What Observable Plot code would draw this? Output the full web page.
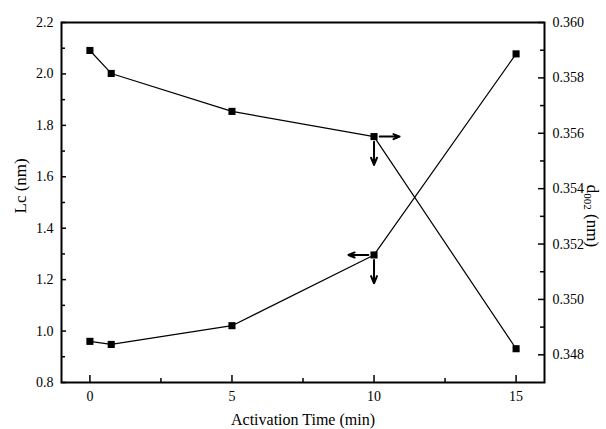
<!DOCTYPE html>
<html><head><meta charset="utf-8">
<script src="https://cdn.jsdelivr.net/npm/d3@7"></script>
<script src="https://cdn.jsdelivr.net/npm/@observablehq/plot@0.6"></script>
<style>body{margin:0;background:#fff} svg{display:block}</style>
</head><body><div id="chart"></div>
<script>
// ---- data ----
const time = [0, 0.75, 5, 10, 15];
const lc = [0.96, 0.948, 1.021, 1.296, 2.078];
const d002 = [0.35899, 0.35816, 0.35679, 0.35588, 0.34822];
const xTicks = [0, 5, 10, 15];
const xMinor = [2.5, 7.5, 12.5];
const lcTicks = [0.8, 1.0, 1.2, 1.4, 1.6, 1.8, 2.0, 2.2];
const lcMinor = [0.9, 1.1, 1.3, 1.5, 1.7, 1.9, 2.1];
const dTicks = [0.348, 0.350, 0.352, 0.354, 0.356, 0.358, 0.360];
const dMinor = [0.349, 0.351, 0.353, 0.355, 0.357, 0.359];
const xLabel = "Activation Time (min)";
const lcLabel = "Lc (nm)";
const dLabel = ["d", "002", " (nm)"];
// arrows mark which axis each series belongs to (at t = 10)
const arrowMarks = [
  {series: "d002", t: 10, side: "right"},
  {series: "Lc", t: 10, side: "left"}
];

// ---- layout ----
const W = 606, H = 429, mL = 61, mR = 62, mT = 22, mB = 47;
const iw = W - mL - mR, ih = H - mT - mB;
const lcDom = [0.8, 2.2], dDom = [0.347, 0.360];
const toY = d => lcDom[0] + (d - dDom[0]) * (lcDom[1] - lcDom[0]) / (dDom[1] - dDom[0]);
const fromY = y => dDom[0] + (y - lcDom[0]) * (dDom[1] - dDom[0]) / (lcDom[1] - lcDom[0]);

const rowsLc = time.map((t, i) => ({t, v: lc[i]}));
const rowsD = time.map((t, i) => ({t, v: toY(d002[i])}));
const seriesVal = {Lc: rowsLc, d002: rowsD};

const arrows = [];
for (const a of arrowMarks) {
  const p = seriesVal[a.series].find(r => r.t === a.t);
  const hx = a.side === "right" ? 0.2 : -0.2;
  const hx2 = a.side === "right" ? 0.9 : -0.9;
  arrows.push({x1: p.t + hx, y1: p.v, x2: p.t + hx2, y2: p.v});
  arrows.push({x1: p.t, y1: p.v - 0.02, x2: p.t, y2: p.v - 0.11});
}

const font = "'Liberation Serif', 'Times New Roman', serif";

const plot = Plot.plot({
  width: W, height: H,
  marginLeft: mL, marginRight: mR, marginTop: mT, marginBottom: mB,
  style: {fontFamily: font, fontSize: "14px", color: "black", background: "white"},
  x: {domain: [-1, 16]},
  y: {domain: lcDom},
  marks: [
    // tick labels
    Plot.axisY(lcTicks, {anchor: "left", tickSize: 0, tickPadding: 8, tickFormat: d3.format(".1f"), fontSize: 14, label: null}),
    Plot.axisY(dTicks.map(toY), {anchor: "right", tickSize: 0, tickPadding: 8, tickFormat: v => d3.format(".3f")(fromY(v)), fontSize: 14, label: null}),
    Plot.axisX(xTicks, {anchor: "bottom", tickSize: 0, tickPadding: 9, fontSize: 14, label: null}),
    // inward ticks
    Plot.tickY(lcTicks, {y: d => d, insetRight: iw - 5, stroke: "black", strokeWidth: 1.5}),
    Plot.tickY(lcMinor, {y: d => d, insetRight: iw - 4, stroke: "black", strokeWidth: 1.5}),
    Plot.tickY(dTicks.map(toY), {y: d => d, insetLeft: iw - 6, stroke: "black", strokeWidth: 1.5}),
    Plot.tickY(dMinor.map(toY), {y: d => d, insetLeft: iw - 4, stroke: "black", strokeWidth: 1.5}),
    Plot.tickX(xTicks, {x: d => d, insetTop: ih - 7, stroke: "black", strokeWidth: 1.5}),
    Plot.tickX(xMinor, {x: d => d, insetTop: ih - 4, stroke: "black", strokeWidth: 1.5}),
    Plot.frame({stroke: "black", strokeWidth: 2}),
    // series
    Plot.line(rowsLc, {x: "t", y: "v", stroke: "black", strokeWidth: 1.2}),
    Plot.line(rowsD, {x: "t", y: "v", stroke: "black", strokeWidth: 1.2}),
    Plot.dot(rowsLc, {x: "t", y: "v", symbol: "square", r: 4, fill: "black"}),
    Plot.dot(rowsD, {x: "t", y: "v", symbol: "square", r: 4, fill: "black"}),
    Plot.arrow(arrows, {x1: "x1", y1: "y1", x2: "x2", y2: "y2", stroke: "black", strokeWidth: 2, headLength: 7, headAngle: 45}),
    // titles
    Plot.text([xLabel], {text: d => d, frameAnchor: "bottom", dy: 37, fontSize: 16, lineAnchor: "middle"}),
    Plot.text([lcLabel], {text: d => d, frameAnchor: "left", dx: -41, dy: 11, rotate: -90, fontSize: 17, lineAnchor: "middle"})
  ]
});

// right axis title with subscript
const svg = d3.select(plot);
const cx = W - 15, cy = 216;
const t = svg.append("text")
  .attr("transform", `translate(${cx},${cy}) rotate(90)`)
  .attr("text-anchor", "middle")
  .attr("dominant-baseline", "middle")
  .attr("font-family", font)
  .attr("font-size", 17)
  .attr("fill", "black");
t.append("tspan").text(dLabel[0]);
t.append("tspan").attr("font-size", 11).attr("dy", 4).text(dLabel[1]);
t.append("tspan").attr("dy", -4).text(dLabel[2]);

document.getElementById("chart").appendChild(plot);
</script>
</body></html>
